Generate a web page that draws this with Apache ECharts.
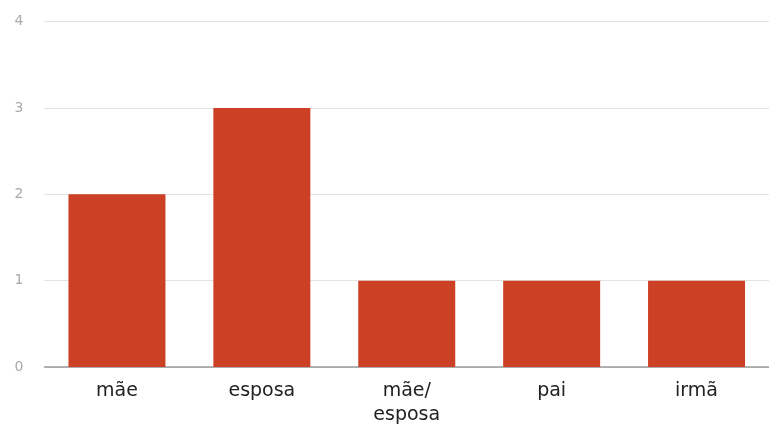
<!DOCTYPE html>
<html>
<head>
<meta charset="utf-8">
<script src="https://cdn.jsdelivr.net/npm/echarts@6/dist/echarts.min.js"></script>
<style>
  html, body { margin: 0; padding: 0; background: #fff; }
  #chart { width: 769px; height: 427px; }
</style>
</head>
<body>
<div id="chart"></div>
<script>
// Respostas por parentesco
const categories = ['mãe', 'esposa', 'mãe/\nesposa', 'pai', 'irmã'];
const counts = [2, 3, 1, 1, 1];
const yTicks = [0, 1, 2, 3, 4];

const chart = echarts.init(document.getElementById('chart'));
chart.setOption({
  animation: false,
  grid: { left: 44.5, top: 21.5, bottom: 53.7, width: 734 },
  xAxis: {
    type: 'category',
    data: categories,
    axisLine: { lineStyle: { color: '#9a9a9a', width: 1.5 } },
    axisTick: { show: false },
    axisLabel: {
      color: '#222',
      fontFamily: 'DejaVu Sans',
      fontSize: 19,
      lineHeight: 24,
      margin: 12
    }
  },
  yAxis: {
    type: 'value',
    min: yTicks[0],
    max: yTicks[yTicks.length - 1],
    interval: 1,
    axisLine: { show: false },
    axisTick: { show: false },
    splitLine: { lineStyle: { color: '#e2e2e2', width: 1.2 } },
    axisLabel: {
      color: '#aaaaaa',
      fontFamily: 'DejaVu Sans',
      fontSize: 14,
      margin: 21
    }
  },
  series: [{
    type: 'bar',
    data: counts,
    barWidth: 97,
    itemStyle: { color: '#cc4125' }
  }]
});
</script>
</body>
</html>
